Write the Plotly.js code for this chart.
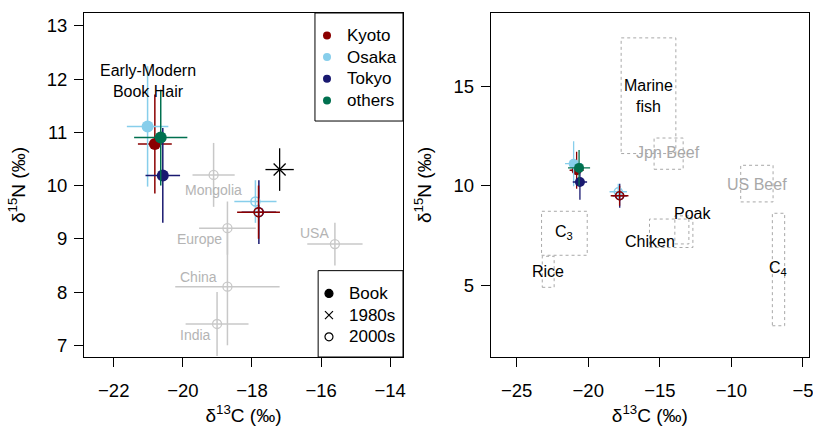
<!DOCTYPE html>
<html>
<head>
<meta charset="utf-8">
<script src="https://cdn.plot.ly/plotly-3.0.1.min.js"></script>
<style>html,body{margin:0;padding:0;background:#fff;}#chart{width:813px;height:427px;}</style>
</head>
<body>
<div id="chart"></div>
<script>
// ---------- data ----------
const groups = ['Kyoto', 'Osaka', 'Tokyo', 'others'];
const groupColors = ['#8b0000', '#87ceeb', '#191970', '#00704f'];

// Early-modern book hair (filled circles)
const bookX = [-20.81, -21.02, -20.58, -20.64];
const bookY = [10.78, 11.11, 10.19, 10.90];
const bookXerr = [0.49, 0.60, 0.50, 0.77];
const bookYerr = [0.93, 1.13, 0.89, 0.90];

// 2000s Japanese hair (open circles), drawing order
const g2000 = ['Tokyo', 'Osaka', 'Kyoto'];
const x2000 = [-17.80, -17.90, -17.81];
const y2000 = [9.50, 9.70, 9.50];
const x2000err = [0.50, 0.61, 0.62];
const y2000err = [0.60, 0.40, 0.50];

// 1980s Japanese hair
const x1980 = [-17.20];
const y1980 = [10.30];
const x1980err = [0.41];
const y1980err = [0.40];

// 2000s other countries
const countries = ['Mongolia', 'Europe', 'China', 'India', 'USA'];
const countryX = [-19.11, -18.71, -18.71, -19.01, -15.60];
const countryY = [10.20, 9.20, 8.10, 7.40, 8.90];
const countryXerr = [0.61, 0.82, 1.51, 0.91, 0.80];
const countryYerr = [0.60, 0.50, 1.10, 0.60, 0.40];
const countryLabelX = [-19.10, -19.53, -19.54, -19.62, -16.18];
const countryLabelY = [9.91, 9.00, 8.29, 7.19, 9.10];

// food source ranges (right panel)
const foods = ['Marine<br>fish', 'Jpn Beef', 'US Beef', 'C<sub>3</sub>', 'Rice', 'Chiken', 'Poak', 'C<sub>4</sub>'];
const foodX0 = [-17.70, -15.40, -9.35, -23.26, -23.21, -15.72, -13.95, -7.14];
const foodX1 = [-13.88, -13.37, -7.09, -20.07, -22.38, -12.69, -12.97, -6.28];
const foodY0 = [11.62, 10.83, 9.19, 6.51, 4.90, 6.90, 7.08, 2.97];
const foodY1 = [17.43, 12.40, 11.03, 8.72, 6.46, 8.33, 8.49, 8.62];
const foodLabelX = [-15.79, -14.42, -8.18, -21.70, -22.79, -15.70, -12.74, -6.74];
const foodLabelY = [14.50, 11.67, 10.08, 7.63, 5.68, 7.20, 8.60, 5.85];
const foodLabelGray = [false, true, true, false, false, false, false, false];

const xTicksL = [-22, -20, -18, -16, -14];
const yTicksL = [7, 8, 9, 10, 11, 12, 13];
const xTicksR = [-25, -20, -15, -10, -5];
const yTicksR = [5, 10, 15];

// ---------- traces ----------
const GRAY_LINE = '#c8c8c8';
const GRAY_TEXT = '#b4b4b4';
const traces = [];

function eb(arr, color, th) {
  return {type: 'data', array: arr, visible: true, width: 0, thickness: th, color: color};
}

countries.forEach((c, i) => {
  traces.push({
    type: 'scatter', mode: 'markers', x: [countryX[i]], y: [countryY[i]], xaxis: 'x', yaxis: 'y',
    marker: {symbol: 'circle-open', size: 9, color: GRAY_LINE, line: {width: 1.3, color: GRAY_LINE}},
    error_x: eb([countryXerr[i]], GRAY_LINE, 1.5), error_y: eb([countryYerr[i]], GRAY_LINE, 1.5),
    showlegend: false, hoverinfo: 'skip'
  });
});

function addPanel(xa, ya, bookSize, openSize, th, with1980) {
  if (with1980) {
    traces.push({
      type: 'scatter', mode: 'markers', x: x1980, y: y1980, xaxis: xa, yaxis: ya,
      marker: {symbol: 'x-thin-open', size: 12, color: '#000', line: {width: 1.3, color: '#000'}},
      error_x: eb(x1980err, '#000', 1.3), error_y: eb(y1980err, '#000', 1.3),
      showlegend: false, hoverinfo: 'skip'
    });
  }
  groups.forEach((g, i) => {
    traces.push({
      type: 'scatter', mode: 'markers', x: [bookX[i]], y: [bookY[i]], xaxis: xa, yaxis: ya,
      marker: {symbol: 'circle', size: bookSize, color: groupColors[i]},
      error_x: eb([bookXerr[i]], groupColors[i], th), error_y: eb([bookYerr[i]], groupColors[i], th),
      showlegend: false, hoverinfo: 'skip'
    });
  });
  g2000.forEach((g, i) => {
    const col = groupColors[groups.indexOf(g)];
    traces.push({
      type: 'scatter', mode: 'markers', x: [x2000[i]], y: [y2000[i]], xaxis: xa, yaxis: ya,
      marker: {symbol: 'circle-open', size: openSize, color: col, line: {width: 1.5, color: col}},
      error_x: eb([x2000err[i]], col, th), error_y: eb([y2000err[i]], col, th),
      showlegend: false, hoverinfo: 'skip'
    });
  });
}
addPanel('x', 'y', 12, 9, 1.5, true);
addPanel('x2', 'y2', 10, 8, 1.3, false);

// legend-only entries (text rendered larger than the legend's row font)
const LEG_TXT = (s) => '<span style="font-size:17px">' + s + '</span>';
groups.forEach((g, i) => {
  traces.push({type: 'scatter', mode: 'markers', x: [null], y: [null], xaxis: 'x', yaxis: 'y',
    name: LEG_TXT(g), legend: 'legend', marker: {symbol: 'circle', size: 8, color: groupColors[i]}, hoverinfo: 'skip'});
});
const typeNames = ['Book', '1980s', '2000s'];
const typeSymbols = ['circle', 'x-thin-open', 'circle-open'];
typeNames.forEach((t, i) => {
  traces.push({type: 'scatter', mode: 'markers', x: [null], y: [null], xaxis: 'x', yaxis: 'y',
    name: LEG_TXT(t), legend: 'legend2', marker: {symbol: typeSymbols[i], size: 8, color: '#000', line: {width: 1.2, color: '#000'}}, hoverinfo: 'skip'});
});

// ---------- layout ----------
const FONT = 'Liberation Sans, Arial, Helvetica, sans-serif';
function axisBase(extra) {
  return Object.assign({
    showline: true, mirror: true, linecolor: '#000', linewidth: 1,
    ticks: 'outside', ticklen: 9, tickwidth: 1, tickcolor: '#000',
    showgrid: false, zeroline: false, tickmode: 'array', ticklabeloverflow: 'allow',
    tickfont: {family: FONT, size: 18.5, color: '#000'}, fixedrange: true
  }, extra);
}
const xTitle = {text: 'δ<sup>13</sup>C (‰)', font: {family: FONT, size: 19, color: '#000'}, standoff: 8};
const yTitle = {text: 'δ<sup>15</sup>N (‰)', font: {family: FONT, size: 19, color: '#000'}, standoff: 16};

const annotations = [];
annotations.push({x: -21.02, y: 11.97, xref: 'x', yref: 'y', text: 'Early-Modern<br>Book Hair',
  showarrow: false, font: {family: FONT, size: 16, color: '#000'}});
countries.forEach((c, i) => {
  annotations.push({x: countryLabelX[i], y: countryLabelY[i], xref: 'x', yref: 'y', text: c,
    showarrow: false, font: {family: FONT, size: 14, color: GRAY_TEXT}});
});
foods.forEach((f, i) => {
  annotations.push({x: foodLabelX[i], y: foodLabelY[i], xref: 'x2', yref: 'y2', text: f,
    showarrow: false, font: {family: FONT, size: 16, color: foodLabelGray[i] ? '#a8a8a8' : '#000'}});
});

const shapes = [];
foods.forEach((f, i) => {
  shapes.push({type: 'rect', xref: 'x2', yref: 'y2', x0: foodX0[i], x1: foodX1[i], y0: foodY0[i], y1: foodY1[i],
    line: {color: '#a8a8a8', width: 1, dash: 'dot'}, fillcolor: 'rgba(0,0,0,0)', layer: 'below'});
});
shapes.push({type: 'rect', xref: 'x domain', yref: 'y domain', x0: 0.724, x1: 1, y0: 0.686, y1: 1,
  line: {color: '#000', width: 1}, fillcolor: 'rgba(0,0,0,0)'});
shapes.push({type: 'rect', xref: 'x domain', yref: 'y domain', x0: 0.734, x1: 1, y0: 0, y1: 0.251,
  line: {color: '#000', width: 1}, fillcolor: 'rgba(0,0,0,0)'});

const legendCommon = {bgcolor: 'rgba(0,0,0,0)', borderwidth: 0, font: {family: FONT, size: 14.4, color: '#000'},
  xanchor: 'left', yanchor: 'top', itemclick: false, itemdoubleclick: false, itemwidth: 30};

const layout = {
  width: 813, height: 427,
  margin: {l: 84, r: 4, t: 13, b: 70},
  paper_bgcolor: '#fff', plot_bgcolor: '#fff',
  font: {family: FONT, size: 17, color: '#000'},
  showlegend: true,
  xaxis: axisBase({domain: [0, 0.44], range: [-22.86, -13.63], tickvals: xTicksL, title: xTitle, anchor: 'y', ticklabelstandoff: 8}),
  yaxis: axisBase({domain: [0, 1], range: [6.78, 13.24], tickvals: yTicksL, title: yTitle, anchor: 'x', ticklabelstandoff: 3}),
  xaxis2: axisBase({domain: [0.561, 1], range: [-26.81, -4.58], tickvals: xTicksR, title: xTitle, anchor: 'y2', ticklabelstandoff: 8}),
  yaxis2: axisBase({domain: [0, 1], range: [1.40, 18.68], tickvals: yTicksR, title: yTitle, anchor: 'x2', ticklabelstandoff: 3}),
  legend: Object.assign({}, legendCommon, {x: 0.3076, y: 0.981}),
  legend2: Object.assign({}, legendCommon, {x: 0.3103, y: 0.231}),
  annotations: annotations,
  shapes: shapes
};

Plotly.newPlot('chart', traces, layout, {staticPlot: true, displayModeBar: false});
</script>
</body>
</html>
